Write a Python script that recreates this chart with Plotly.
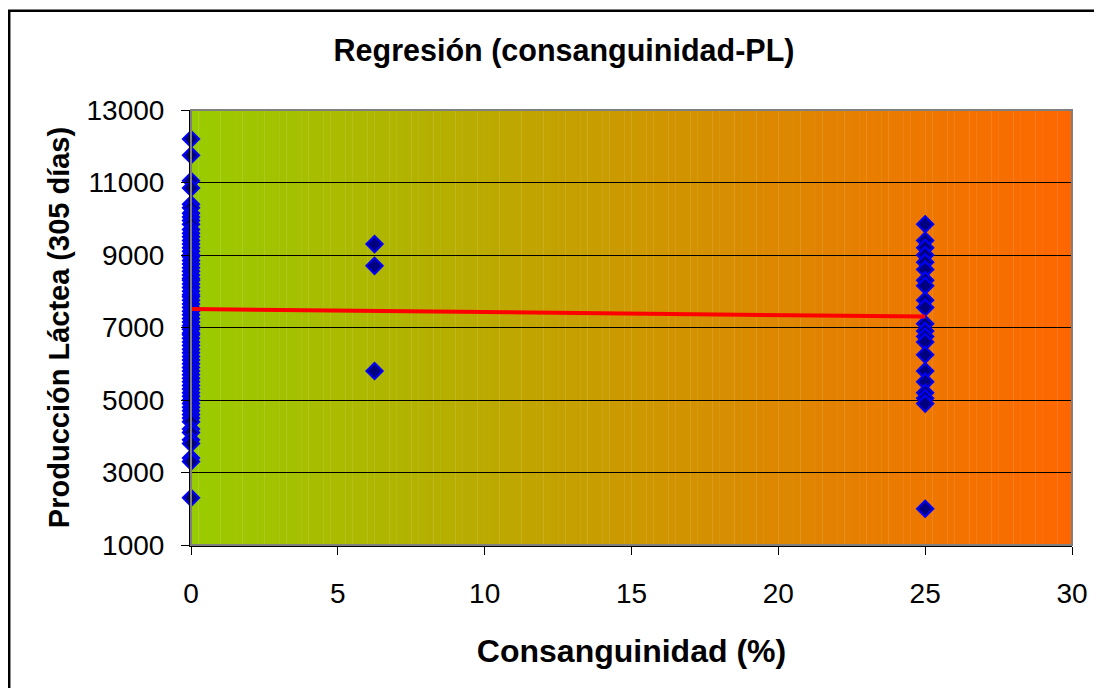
import plotly.graph_objects as go

# ---- data ----
x0_vals = [12200, 11750, 11050, 10850, 10400, 10300, 10150, 10050, 9950, 9850,
           9700, 9600, 9500, 9400, 9300, 9200, 9100, 9000, 8950, 8850,
           8750, 8650, 8550, 8450, 8350, 8300, 8200, 8100, 8000, 7900,
           7850, 7750, 7650, 7550, 7450, 7350, 7250, 7150, 7050, 6950,
           6850, 6800, 6700, 6600, 6500, 6400, 6300, 6200, 6100, 6000,
           5900, 5800, 5700, 5600, 5500, 5400, 5300, 5200, 5100, 5000,
           4900, 4800, 4700, 4600, 4500, 4400, 4200, 4100, 3900, 3800,
           3400, 3300, 2300]
x6_vals = [9300, 8700, 5800]
x25_vals = [9850, 9400, 9200, 9000, 8800, 8600, 8300, 8150, 7750, 7550,
            7100, 6900, 6750, 6600, 6250, 5800, 5500, 5200, 5050, 4900, 2000]
consang_levels = [0, 6.25, 25]
trend_x = [0, 25]
trend_y = [7510, 7300]
x_ticks = [0, 5, 10, 15, 20, 25, 30]
y_ticks = [1000, 3000, 5000, 7000, 9000, 11000, 13000]
y_tick_text = ["1000", "3000", "5000", "7000", "9000", "11000", "13000"]

xs = ([consang_levels[0]] * len(x0_vals) + [consang_levels[1]] * len(x6_vals)
      + [consang_levels[2]] * len(x25_vals))
ys = x0_vals + x6_vals + x25_vals

FONT = "Arial, Liberation Sans, sans-serif"
# page is offset by the 8px default body margin
W, H = 1094, 680
L, R, T, B = 183, 30, 102, 143
pw, ph = W - L - R, H - T - B

fig = go.Figure()
fig.add_trace(go.Scatter(
    x=xs, y=ys, mode="markers", cliponaxis=False, showlegend=False,
    marker=dict(symbol="diamond", size=12.5, color="#000080",
                line=dict(color="#0000FF", width=2))))
fig.add_trace(go.Scatter(
    x=trend_x, y=trend_y, mode="lines", showlegend=False,
    line=dict(color="#FF0000", width=4)))

# gradient background (green -> orange)
c0 = (153, 204, 0)
c1 = (255, 102, 0)
n = 120
shapes = []
for i in range(n):
    t = (i + 0.5) / n
    col = tuple(round(c0[k] + (c1[k] - c0[k]) * t) for k in range(3))
    shapes.append(dict(type="rect", xref="x", yref="paper",
                       x0=30 * i / n, x1=30 * (i + 1) / n + 0.01, y0=0, y1=1,
                       fillcolor="rgb(%d,%d,%d)" % col, line=dict(width=0),
                       layer="below"))
# plot area border (gray top/right)
shapes.append(dict(type="rect", xref="paper", yref="paper", x0=0, x1=1, y0=0, y1=1,
                   line=dict(color="#808080", width=2), layer="above"))
# outer chart frame (left and top edges visible)
fx0, fy0 = 1.2, 2.7
shapes.append(dict(type="rect", xref="paper", yref="paper",
                   x0=(fx0 - L) / pw, x1=(W + 30 - L) / pw,
                   y0=(ph + T - (H + 30)) / ph, y1=(ph + T - fy0) / ph,
                   line=dict(color="black", width=2.5), layer="above"))

fig.update_layout(
    width=W, height=H,
    margin=dict(l=L, r=R, t=T, b=B),
    paper_bgcolor="white", plot_bgcolor="white",
    font=dict(family=FONT, size=28, color="black"),
    title=dict(text="<b>Regresión (consanguinidad-PL)</b>", x=556 / W,
               xanchor="center", y=1 - 42 / H, yanchor="middle",
               font=dict(size=30.5)),
    shapes=shapes,
)
fig.update_xaxes(range=[0, 30], tickvals=x_ticks, ticks="outside", ticklen=8,
                 tickcolor="black", showgrid=False, showline=True,
                 linecolor="black", linewidth=2, zeroline=False,
                 tickfont=dict(size=28), ticklabelstandoff=14,
                 title=dict(text="<b>Consanguinidad (%)</b>", standoff=32,
                            font=dict(size=32)))
fig.update_yaxes(range=[1000, 13000], tickvals=y_ticks, ticktext=y_tick_text,
                 ticks="outside", ticklen=8,
                 tickcolor="black", showgrid=True, gridcolor="black", gridwidth=1,
                 showline=True, linecolor="black", linewidth=2, zeroline=False,
                 tickfont=dict(size=28), ticklabelstandoff=11,
                 title=dict(text="<b>Producción Láctea (305 días)</b>", standoff=8,
                            font=dict(size=29)))

fig.write_html("out.html")
